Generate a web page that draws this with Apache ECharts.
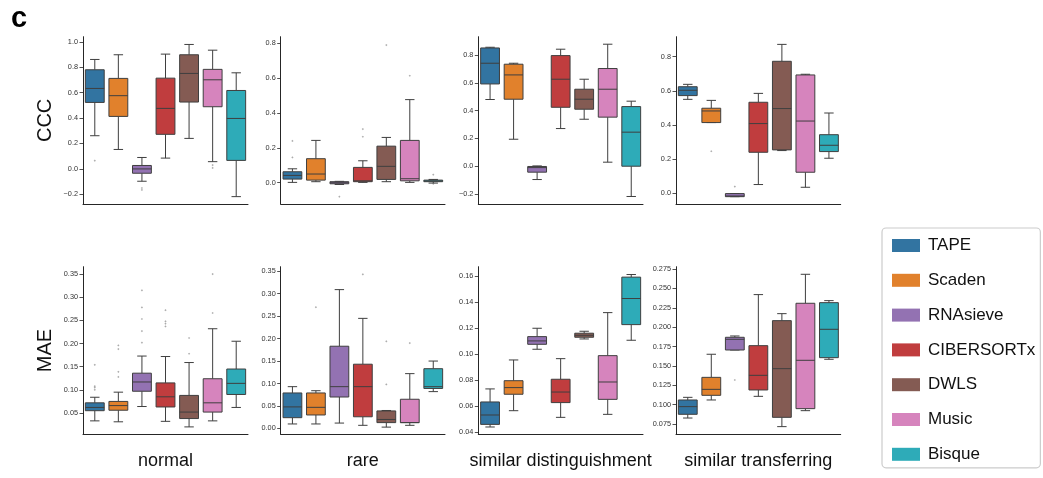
<!DOCTYPE html>
<html>
<head>
<meta charset="utf-8">
<script src="https://cdn.jsdelivr.net/npm/echarts@6/dist/echarts.min.js"></script>
<style>
  html, body { margin: 0; padding: 0; background: #ffffff; }
  #chart { width: 1043px; height: 478px; }
</style>
</head>
<body>
<div id="chart"></div>
<script>
// Methods compared and the scenarios each metric is reported for
const methods = ['TAPE', 'Scaden', 'RNAsieve', 'CIBERSORTx', 'DWLS', 'Music', 'Bisque'];
const scenarios = ['normal', 'rare', 'similar distinguishment', 'similar transferring'];
const metrics = ['CCC', 'MAE'];

// Box statistics per method: [lower whisker, Q1, median, Q3, upper whisker]
const cccNormal = [
  [0.261, 0.523, 0.633, 0.780, 0.861],
  [0.153, 0.413, 0.576, 0.712, 0.898],
  [-0.097, -0.034, 0.000, 0.027, 0.090],
  [0.085, 0.272, 0.476, 0.714, 0.903],
  [0.240, 0.526, 0.751, 0.898, 0.979],
  [0.057, 0.489, 0.701, 0.783, 0.934],
  [-0.218, 0.067, 0.397, 0.617, 0.756]
];
const cccRare = [
  [0.002, 0.021, 0.042, 0.063, 0.080],
  [0.006, 0.015, 0.050, 0.138, 0.243],
  [-0.010, -0.006, 0.000, 0.006, 0.008],
  [0.002, 0.006, 0.011, 0.088, 0.126],
  [0.006, 0.019, 0.094, 0.210, 0.260],
  [0.002, 0.011, 0.023, 0.243, 0.477],
  [-0.002, 0.006, 0.010, 0.015, 0.019]
];
const cccDistinguish = [
  [0.480, 0.592, 0.741, 0.851, 0.856],
  [0.194, 0.482, 0.657, 0.734, 0.741],
  [-0.096, -0.043, -0.010, -0.002, 0.002],
  [0.271, 0.424, 0.626, 0.796, 0.842],
  [0.338, 0.410, 0.482, 0.554, 0.626],
  [0.029, 0.353, 0.554, 0.703, 0.878],
  [-0.218, 0.000, 0.245, 0.429, 0.468]
];
const cccTransfer = [
  [0.550, 0.572, 0.603, 0.624, 0.638],
  [0.414, 0.414, 0.482, 0.498, 0.544],
  [-0.020, -0.020, -0.016, -0.002, -0.002],
  [0.051, 0.240, 0.408, 0.533, 0.585],
  [0.250, 0.254, 0.496, 0.773, 0.872],
  [0.035, 0.123, 0.423, 0.693, 0.697],
  [0.205, 0.244, 0.281, 0.343, 0.470]
];
const maeNormal = [
  [0.033, 0.055, 0.062, 0.072, 0.084],
  [0.031, 0.056, 0.066, 0.075, 0.095],
  [0.064, 0.097, 0.117, 0.136, 0.173],
  [0.032, 0.063, 0.085, 0.115, 0.172],
  [0.020, 0.038, 0.052, 0.088, 0.159],
  [0.033, 0.052, 0.072, 0.124, 0.232],
  [0.062, 0.090, 0.114, 0.145, 0.205]
];
const maeRare = [
  [0.010, 0.024, 0.048, 0.079, 0.093],
  [0.010, 0.030, 0.047, 0.079, 0.084],
  [0.012, 0.070, 0.093, 0.183, 0.309],
  [0.007, 0.026, 0.093, 0.143, 0.245],
  [0.003, 0.013, 0.020, 0.039, 0.040],
  [0.007, 0.013, 0.013, 0.065, 0.122],
  [0.082, 0.089, 0.093, 0.133, 0.150]
];
const maeDistinguish = [
  [0.0441, 0.0461, 0.0533, 0.0633, 0.0733],
  [0.0566, 0.0692, 0.0743, 0.0796, 0.0955],
  [0.1037, 0.1075, 0.1101, 0.1134, 0.1198],
  [0.0515, 0.0628, 0.0709, 0.0807, 0.0965],
  [0.1116, 0.1129, 0.1144, 0.1160, 0.1175],
  [0.0538, 0.0653, 0.0786, 0.0988, 0.1318],
  [0.1106, 0.1226, 0.1426, 0.1590, 0.1610]
];
const maeTransfer = [
  [0.0827, 0.0875, 0.0974, 0.1060, 0.1094],
  [0.1060, 0.1120, 0.1197, 0.1352, 0.1650],
  [0.1705, 0.1705, 0.1843, 0.1869, 0.1886],
  [0.1107, 0.1189, 0.1378, 0.1761, 0.2420],
  [0.0716, 0.0836, 0.1464, 0.2084, 0.2174],
  [0.0922, 0.0948, 0.1572, 0.2308, 0.2682],
  [0.1585, 0.1606, 0.1972, 0.2316, 0.2342]
];

// Outlying points per method
const cccNormalOut = [[0.065], [], [-0.15, -0.165], [], [], [0.03, 0.008], []];
const cccRareOut = [[0.24, 0.145], [], [-0.08], [0.308, 0.264], [0.79], [0.614], [0.046, -0.006]];
const cccDistinguishOut = [[], [], [], [], [], [], []];
const cccTransferOut = [[], [0.246], [0.039], [], [], [], []];
const maeNormalOut = [[0.100, 0.105, 0.108, 0.154], [0.128, 0.139, 0.188, 0.196], [0.202, 0.227, 0.253, 0.278, 0.315], [0.237, 0.243, 0.248, 0.272], [0.178, 0.212], [0.266, 0.350], []];
const maeRareOut = [[], [0.270], [], [0.343], [0.098, 0.194], [0.190], []];
const maeDistinguishOut = [[], [], [], [], [], [], []];
const maeTransferOut = [[], [], [0.1318], [], [], [], []];

// Y-axis tick values per panel
const cccNormalTicks = [-0.2, 0.0, 0.2, 0.4, 0.6, 0.8, 1.0];
const cccRareTicks = [0.0, 0.2, 0.4, 0.6, 0.8];
const cccDistinguishTicks = [-0.2, 0.0, 0.2, 0.4, 0.6, 0.8];
const cccTransferTicks = [0.0, 0.2, 0.4, 0.6, 0.8];
const maeNormalTicks = [0.05, 0.10, 0.15, 0.20, 0.25, 0.30, 0.35];
const maeRareTicks = [0.00, 0.05, 0.10, 0.15, 0.20, 0.25, 0.30, 0.35];
const maeDistinguishTicks = [0.04, 0.06, 0.08, 0.10, 0.12, 0.14, 0.16];
const maeTransferTicks = [0.075, 0.100, 0.125, 0.150, 0.175, 0.200, 0.225, 0.250, 0.275];

const panels = [
  { stats: cccNormal, out: cccNormalOut, ticks: cccNormalTicks, min: -0.276, max: 1.04, dec: 1 },
  { stats: cccRare, out: cccRareOut, ticks: cccRareTicks, min: -0.122, max: 0.838, dec: 1 },
  { stats: cccDistinguish, out: cccDistinguishOut, ticks: cccDistinguishTicks, min: -0.272, max: 0.932, dec: 1 },
  { stats: cccTransfer, out: cccTransferOut, ticks: cccTransferTicks, min: -0.063, max: 0.917, dec: 1 },
  { stats: maeNormal, out: maeNormalOut, ticks: maeNormalTicks, min: 0.004, max: 0.366, dec: 2 },
  { stats: maeRare, out: maeRareOut, ticks: maeRareTicks, min: -0.013, max: 0.360, dec: 2 },
  { stats: maeDistinguish, out: maeDistinguishOut, ticks: maeDistinguishTicks, min: 0.0385, max: 0.167, dec: 2 },
  { stats: maeTransfer, out: maeTransferOut, ticks: maeTransferTicks, min: 0.0617, max: 0.278, dec: 3 }
];

// Styling
const COLORS = ['#3274a1', '#e1812c', '#9372b2', '#c03d3e', '#845b53', '#d684bd', '#2eabb8'];
const LINE = '#3f3f3f';
const AXIS = '#262626';
const FONT = '"Liberation Sans", Arial, sans-serif';
const colLeft = [83, 280.7, 478.3, 676];
const colWidth = [165, 164.3, 164.7, 164.7];
const rowTop = [36.7, 266.7];
const rowHeight = [167.3, 167.6];

const fmt = (v, dec) => {
  const s = Math.abs(v).toFixed(dec);
  return (v < -1e-9 ? '\u2212' : '') + s;
};

const grid = [], xAxis = [], yAxis = [], series = [];

panels.forEach((p, i) => {
  const row = Math.floor(i / 4), col = i % 4;
  grid.push({ left: colLeft[col], top: rowTop[row], width: colWidth[col], height: rowHeight[row] });
  xAxis.push({
    type: 'category', gridIndex: i, data: methods, boundaryGap: true,
    axisLine: { onZero: false, lineStyle: { color: AXIS, width: 1 } },
    axisTick: { alignWithLabel: true, length: 3.5, lineStyle: { color: AXIS, width: 0.8 } },
    axisLabel: { show: false },
    splitLine: { show: false },
    name: row === 1 ? scenarios[col] : '',
    nameLocation: 'middle', nameGap: 18,
    nameTextStyle: { fontFamily: FONT, fontSize: 18, color: '#111' }
  });
  yAxis.push({
    type: 'value', gridIndex: i, min: p.min, max: p.max,
    axisLine: { show: true, lineStyle: { color: AXIS, width: 1 } },
    axisTick: { show: true, length: 3.5, customValues: p.ticks, lineStyle: { color: AXIS, width: 0.8 } },
    axisLabel: {
      customValues: p.ticks, margin: 5, fontSize: 7.3, color: '#333', fontFamily: FONT,
      formatter: v => fmt(v, p.dec)
    },
    splitLine: { show: false },
    name: col === 0 ? metrics[row] : '',
    nameLocation: 'middle', nameRotate: 90, nameGap: 28,
    nameTextStyle: { fontFamily: FONT, fontSize: 20, color: '#111' }
  });

  // one box per method so each carries its own legend entry and colour
  methods.forEach((m, k) => {
    series.push({
      type: 'custom', name: m, xAxisIndex: i, yAxisIndex: i,
      itemStyle: { color: COLORS[k] },
      encode: { x: 0, y: [1, 2, 3, 4, 5] },
      data: [[k].concat(p.stats[k])],
      renderItem: (params, api) => {
        const x = api.value(0);
        const lo = api.coord([x, api.value(1)]);
        const q1 = api.coord([x, api.value(2)]);
        const md = api.coord([x, api.value(3)]);
        const q3 = api.coord([x, api.value(4)]);
        const hi = api.coord([x, api.value(5)]);
        const w = api.size([1, 0])[0] * 0.8;
        const cx = md[0];
        const ls = { stroke: LINE, lineWidth: 1, fill: null };
        return {
          type: 'group',
          children: [
            { type: 'line', shape: { x1: cx, y1: lo[1], x2: cx, y2: q1[1] }, style: ls },
            { type: 'line', shape: { x1: cx, y1: q3[1], x2: cx, y2: hi[1] }, style: ls },
            { type: 'line', shape: { x1: cx - w / 4, y1: lo[1], x2: cx + w / 4, y2: lo[1] }, style: ls },
            { type: 'line', shape: { x1: cx - w / 4, y1: hi[1], x2: cx + w / 4, y2: hi[1] }, style: ls },
            { type: 'rect', shape: { x: cx - w / 2, y: q3[1], width: w, height: Math.max(q1[1] - q3[1], 0.8) },
              style: { fill: api.visual('color'), stroke: LINE, lineWidth: 1 } },
            { type: 'line', shape: { x1: cx - w / 2, y1: md[1], x2: cx + w / 2, y2: md[1] }, style: ls }
          ]
        };
      }
    });
  });

  const pts = [];
  p.out.forEach((arr, k) => arr.forEach(v => pts.push([k, v])));
  series.push({
    type: 'scatter', name: 'outliers', xAxisIndex: i, yAxisIndex: i,
    symbol: 'diamond', symbolSize: 2.2, silent: true,
    itemStyle: { color: 'rgba(63,63,63,0.55)' },
    data: pts
  });
});

const chart = echarts.init(document.getElementById('chart'), null, { renderer: 'canvas' });
chart.setOption({
  animation: false,
  backgroundColor: '#ffffff',
  grid, xAxis, yAxis, series,
  legend: {
    data: methods, orient: 'vertical', left: 882, top: 228,
    icon: 'rect', itemWidth: 28, itemHeight: 13, itemGap: 17.8,
    padding: [9, 5, 5, 10],
    borderColor: '#cccccc', borderWidth: 1.2, borderRadius: 4,
    selectedMode: false,
    textStyle: { fontFamily: FONT, fontSize: 17, color: '#111', padding: [0, 0, 0, 3] }
  },
  graphic: [{
    type: 'text', left: 11, top: 4,
    style: { text: 'c', font: 'bold 29px "Liberation Sans", Arial, sans-serif', fill: '#000' }
  }]
});
</script>
</body>
</html>
